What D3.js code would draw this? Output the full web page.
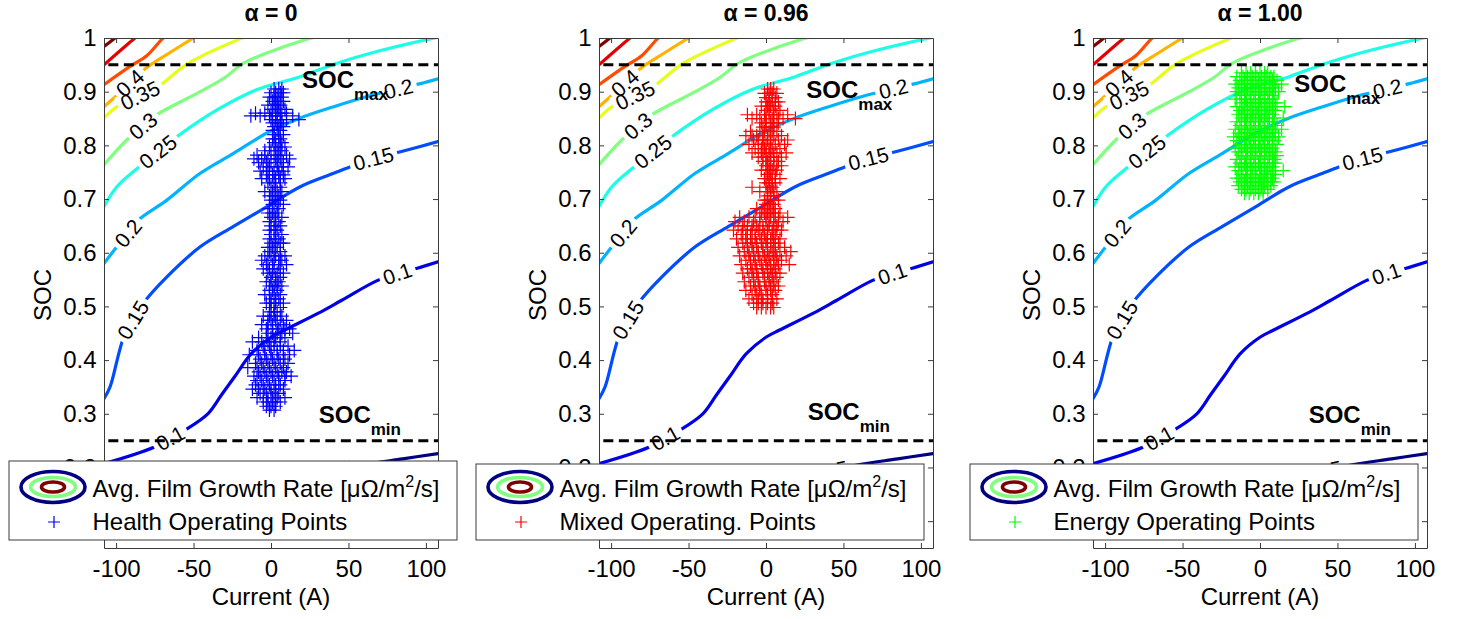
<!DOCTYPE html>
<html><head><meta charset="utf-8">
<script src="https://cdn.jsdelivr.net/npm/d3@7"></script>
<style>
body{margin:0;background:#fff}
svg{display:block}
text{font-family:Arial,"Liberation Sans",Helvetica,sans-serif}
</style>
</head><body>
<svg id="chart" width="1462" height="619"></svg>
<script>
// ---------------- DATA ----------------
const titles = ["\u03b1 = 0", "\u03b1 = 0.96", "\u03b1 = 1.00"];
const seriesNames = ["Health Operating Points", "Mixed Operating. Points", "Energy Operating Points"];
const seriesColors = ["#0000ff", "#ff0000", "#00ff00"];
const legendContourName = "Avg. Film Growth Rate [\u03bc\u03a9/m";
const xTicks = [-100, -50, 0, 50, 100];
const yTicks = [0.1, 0.2, 0.3, 0.4, 0.5, 0.6, 0.7, 0.8, 0.9, 1];
const yTickLabels = ["", "0.2", "0.3", "0.4", "0.5", "0.6", "0.7", "0.8", "0.9", "1"];
const xDomain = [-107.8, 107.8];
const yDomain = [0.05, 1];
const socMax = 0.95, socMin = 0.25;

const contourLevels = [0.05, 0.1, 0.15, 0.2, 0.25, 0.3, 0.35, 0.4, 0.45, 0.5, 0.55];
// contour lines: [current (A), SOC]
const c005 = [[-107.8,0.09],[-60,0.12],[0,0.16],[30,0.185],[58,0.204],[85,0.216],[107.8,0.226]];
const c010 = [[-107.8,0.207],[-75.2,0.238],[-55.9,0.269],[-40.8,0.300],[-32,0.335],[-23.5,0.369],[-12.7,0.412],[0.2,0.443],[8.8,0.456],[30.3,0.487],[45.4,0.511],[68.5,0.548],[81.6,0.561],[94.4,0.571],[107.8,0.583]];
const c015 = [[-107.8,0.328],[-103.9,0.350],[-94.2,0.450],[-82.4,0.506],[-67.2,0.555],[-45.7,0.611],[-24.2,0.649],[-2.6,0.686],[18.9,0.723],[40.5,0.748],[51.3,0.760],[66,0.775],[83.6,0.788],[107.8,0.807]];
const c020 = [[-107.8,0.580],[-99.5,0.611],[-92,0.637],[-85.6,0.661],[-67.2,0.698],[-45.7,0.748],[-24.2,0.785],[-2.6,0.823],[18.9,0.851],[40.5,0.872],[62.1,0.891],[82,0.905],[96.5,0.915],[107.8,0.924]];
const c025 = [[-107.8,0.686],[-99.5,0.723],[-83.4,0.764],[-72.9,0.788],[-60.8,0.816],[-34.9,0.866],[-9.0,0.904],[18.9,0.928],[42.7,0.953],[72.6,0.978],[110,1.003]];
const c030 = [[-107.8,0.764],[-93.1,0.810],[-82.5,0.836],[-73.7,0.857],[-45.7,0.900],[-30,0.926],[-17.7,0.953],[0,0.975],[18.9,0.994],[30,1.003]];
const c035 = [[-107.8,0.851],[-99.5,0.872],[-84.5,0.893],[-72.7,0.910],[-53.3,0.953],[-18.7,1.0],[-15,1.004]];
const c040 = [[-107.8,0.872],[-100,0.892],[-91,0.916],[-80.2,0.945],[-65.1,0.973],[-50,1.0],[-47,1.005]];
const c045 = [[-107.8,0.913],[-91,0.947],[-80.2,0.967],[-69.6,1.0],[-67,1.005]];
const c050 = [[-107.8,0.950],[-87.8,1.0],[-85,1.006]];
const c055 = [[-107.8,0.984],[-100.7,1.0],[-98,1.006]];
const contourLines = [c005, c010, c015, c020, c025, c030, c035, c040, c045, c050, c055];
// inline label positions (current, A) per level index
const contourLabelsAt = [[40], [-65, 81.6], [-89, 66.1], [-92.2, 82.3], [-72.9], [-82.5], [-84.5], [-91], [], [], []];

// annotation anchors [current, SOC] per panel
const socMaxText = [[20.0,0.907],[26.0,0.888],[22.1,0.899]];
const socMinText = [[30.8,0.282],[26.9,0.288],[31.4,0.283]];

// operating points: rows of [SOC, [currents...]]
const healthRows = [
[0.905,[2,5,7]],[0.898,[0,3,6,8]],[0.890,[-1,2,4,7]],[0.882,[1,3,5,8]],[0.875,[-2,2,4,6]],
[0.867,[0,3,5,9]],[0.860,[-10,-4,1,4,7,10]],[0.855,[-13,-7,-1,3,6,14]],[0.848,[0,3,6,10,18]],
[0.842,[1,4,7]],[0.835,[2,5,8]],[0.828,[1,4,6]],[0.820,[2,5,8]],[0.812,[1,3,6]],[0.805,[2,5,7]],
[0.797,[-1,3,6,9]],[0.790,[-4,0,4,7]],[0.782,[-9,-4,2,5,10]],[0.775,[-11,-6,-2,3,6,12]],
[0.768,[-8,-3,0,4,8]],[0.760,[-5,-1,4,7,11]],[0.752,[-7,-2,2,5,8]],[0.745,[-3,1,5,8]],
[0.738,[-6,-1,3,6,9]],[0.730,[-2,2,6]],[0.722,[0,3,6]],[0.714,[-4,1,4,7]],[0.706,[-1,2,5]],
[0.698,[0,3,6]],[0.690,[1,4,8]],[0.682,[-1,2,5]],[0.674,[-2,1,4]],[0.666,[0,3,7]],[0.658,[-1,2,5]],
[0.650,[0,3,6]],[0.642,[-1,2,4]],[0.634,[0,3,7]],[0.626,[-1,2,5]],[0.618,[0,3,6,8]],[0.610,[-2,1,4]],
[0.602,[-1,2,6]],[0.594,[-4,0,3,6,9]],[0.586,[-6,-2,2,5,7]],[0.578,[-3,1,5,10]],[0.570,[-5,-1,2,6]],
[0.562,[-2,1,4,8]],[0.554,[0,3,6]],[0.546,[-3,0,3,5]],[0.538,[-1,2,4,7]],[0.530,[-1,1,4]],
[0.522,[-4,-1,2,6]],[0.514,[0,3,5]],[0.506,[-3,0,3,8]],[0.498,[-1,2,6]],[0.490,[0,2,4]],
[0.482,[-5,-1,2,7]],[0.474,[-2,0,3,6,10]],[0.466,[-6,-2,1,4,8]],[0.458,[-3,1,5,9,12]],
[0.450,[-2,1,4,7,14]],[0.442,[-8,-3,0,3,6,9]],[0.434,[-12,-6,-2,2,6]],[0.426,[-5,-1,2,6,11]],
[0.418,[-9,-4,0,4,8,15]],[0.410,[-14,-8,-4,0,4,8,12]],[0.402,[-7,-3,1,5,9]],[0.394,[-10,-6,-2,2,6,11]],
[0.386,[-15,-9,-5,-1,3,8]],[0.378,[-8,-4,0,4,7,10]],[0.370,[-11,-7,-3,1,5,9,13]],[0.362,[-9,-6,-2,2,5,9]],
[0.354,[-10,-5,-1,3,6]],[0.346,[-12,-8,-4,0,3,8]],[0.338,[-7,-3,0,2,5]],[0.330,[-9,-5,-2,1,4,9]],
[0.322,[-5,-2,1,3,6]],[0.314,[-3,0,3]],[0.307,[-1,2]]
];
const mixedRows = [
[0.905,[1,3,5]],[0.897,[-1,2,4,7]],[0.889,[0,2,4,6]],[0.881,[0,2,4,6,8]],[0.873,[-3,1,3,6]],
[0.865,[0,2,5,9]],[0.857,[-12,-6,-1,2,5,7,14]],[0.850,[-9,-4,0,4,8,11,19]],[0.842,[-3,0,3,5,8]],
[0.834,[-2,0,3,5]],[0.826,[-10,-4,-1,2,4,7]],[0.818,[-13,-9,-6,-2,1,5,10]],[0.810,[-8,-5,-2,1,3,8,14]],
[0.802,[-11,-5,-2,0,3,6,12]],[0.794,[-7,-3,-1,2,4,9]],[0.786,[-9,-3,0,2,5,7,13]],[0.778,[-5,-2,0,3,5,10]],
[0.770,[-2,1,3,5,8]],[0.762,[0,2,5,7,10]],[0.754,[-3,0,2,4,7]],[0.746,[1,3,6]],[0.738,[-1,2,4,6,9]],
[0.730,[0,2,4,6]],[0.722,[-9,0,2,4]],[0.714,[-4,1,3,5,7]],[0.706,[1,3,5]],[0.698,[-1,1,3,5,8]],
[0.690,[0,2,5]],[0.682,[-6,-2,2,4,6]],[0.674,[-3,-1,1,3,5,9]],[0.666,[-17,-11,-7,-4,0,3,6,8,14]],
[0.658,[-20,-14,-8,-4,0,2,5,8,11]],[0.650,[-18,-15,-12,-9,-6,-2,2,5,7]],[0.642,[-21,-15,-12,-9,-5,-2,1,4,7,10]],
[0.634,[-16,-13,-10,-7,-4,-1,1,4,6]],[0.626,[-19,-13,-10,-7,-3,0,3,5,9]],[0.618,[-15,-12,-9,-6,-3,0,3,5,8]],
[0.610,[-18,-12,-9,-6,-2,1,3,6,12]],[0.602,[-14,-11,-8,-5,-2,1,4,6,9,16]],[0.594,[-17,-11,-8,-5,-1,2,5,7,13]],
[0.586,[-13,-10,-7,-4,0,2,5,7,10]],[0.578,[-16,-10,-7,-3,0,3,5,8,15]],[0.570,[-12,-9,-6,-2,1,3,6]],
[0.562,[-15,-9,-6,-2,1,4,6,9]],[0.554,[-11,-8,-5,-1,2,4,7]],[0.546,[-14,-8,-5,-1,2,5]],
[0.538,[-10,-7,-4,0,3,5,8]],[0.530,[-13,-7,-4,0,3,6]],[0.522,[-9,-6,-3,1,4]],[0.514,[-11,-5,-2,1,4,7]],
[0.506,[-8,-5,-2,1,4]],[0.498,[-6,-3,0,3,5]]
];
const energyRows = [
[0.935,[-12,-9,-6,-3,0,3,5]],[0.928,[-15,-11,-8,-5,-2,1,4,7,9]],[0.921,[-13,-10,-7,-4,-1,2,6,8,11]],
[0.914,[-16,-12,-9,-6,-3,0,3,6,9,14]],[0.907,[-14,-11,-8,-5,-2,1,4,7,10]],[0.900,[-15,-12,-9,-6,-3,0,3,6,9,12]],
[0.893,[-13,-10,-7,-4,-1,2,5,8]],[0.886,[-16,-12,-9,-6,-3,0,3,6,8]],[0.879,[-12,-9,-6,-3,0,3,6,9,11]],
[0.872,[-15,-11,-8,-5,-2,1,4,7,10,16]],[0.865,[-13,-10,-7,-4,-1,2,5,8,10]],[0.858,[-14,-11,-8,-5,-2,1,4,6,8]],
[0.851,[-12,-9,-6,-3,0,3,6,9,15]],[0.844,[-15,-12,-9,-6,-3,0,3,6,9]],[0.837,[-13,-10,-7,-4,-1,2,5,8,11]],
[0.830,[-16,-12,-9,-6,-3,0,3,6,9,14]],[0.823,[-14,-11,-8,-5,-2,1,4,7,10]],[0.816,[-17,-13,-10,-7,-4,-1,2,5,8,12]],
[0.809,[-15,-12,-9,-6,-3,0,3,6,9]],[0.802,[-13,-10,-7,-4,-1,2,5,8,11]],[0.795,[-16,-12,-9,-6,-3,0,3,6,8]],
[0.788,[-14,-11,-8,-5,-2,1,4,7,10]],[0.781,[-12,-9,-6,-3,0,3,6,9,11]],[0.774,[-15,-12,-9,-6,-3,0,3,6,9]],
[0.767,[-13,-10,-7,-4,-1,2,5,8,10]],[0.760,[-16,-12,-9,-6,-3,0,3,6,8]],[0.753,[-14,-11,-8,-5,-2,1,4,7,9,15]],
[0.746,[-12,-9,-6,-3,0,3,5,8,10]],[0.739,[-15,-12,-9,-6,-3,0,2,5,8]],[0.732,[-13,-10,-7,-4,-1,2,4,7,9]],
[0.725,[-14,-11,-8,-5,-2,1,3,5,7]],[0.718,[-12,-9,-6,-3,0,2,5]],[0.711,[-10,-7,-4,-1,2]]
];
const seriesRows = [healthRows, mixedRows, energyRows];

// ---------------- LAYOUT ----------------
const panelLeft = [104, 599, 1093];
const TOP = 38, W = 334, H = 510;
const legendX = [9, 476, 970], legendY = [461, 464, 464], legendW = 448;
const FONT = 24;

const svg = d3.select("#chart");
const defs = svg.append("defs");
const x = d3.scaleLinear().domain(xDomain).range([0, W]);
const y = d3.scaleLinear().domain(yDomain).range([H, 0]);

function jet(t) {
  const c = v => Math.max(0, Math.min(1, v));
  return d3.rgb(c(1.5 - Math.abs(4*t - 3))*255, c(1.5 - Math.abs(4*t - 2))*255, c(1.5 - Math.abs(4*t - 1))*255).formatHex();
}
const levelColor = i => jet(i / (contourLevels.length - 1));
const lineGen = d3.line().x(d => x(d[0])).y(d => y(d[1])).curve(d3.curveCatmullRom.alpha(0.5));

function placeOnLine(pts, I) {
  for (let k = 0; k < pts.length - 1; k++) {
    const a = pts[k], b = pts[k+1];
    if (I >= a[0] && I <= b[0]) {
      const t = (I - a[0]) / (b[0] - a[0]);
      const s = a[1] + t*(b[1]-a[1]);
      const ang = Math.atan2(y(b[1]) - y(a[1]), x(b[0]) - x(a[0])) * 180 / Math.PI;
      return {px: x(I), py: y(s), ang};
    }
  }
  return null;
}
const plus = s => `M${-s},0H${s}M0,${-s}V${s}`;

titles.forEach((title, p) => {
  const g = svg.append("g").attr("transform", `translate(${panelLeft[p]},${TOP})`);

  defs.append("clipPath").attr("id", "clip" + p)
    .append("rect").attr("x", 0).attr("y", 0).attr("width", W).attr("height", H);
  const mask = defs.append("mask").attr("id", "mask" + p)
    .attr("maskUnits", "userSpaceOnUse")
    .attr("x", -50).attr("y", -50).attr("width", W + 100).attr("height", H + 100);
  mask.append("rect").attr("x", -50).attr("y", -50).attr("width", W + 100).attr("height", H + 100).attr("fill", "#fff");

  // contour lines
  const cg = g.append("g").attr("clip-path", `url(#clip${p})`).append("g").attr("mask", `url(#mask${p})`);
  contourLines.forEach((pts, i) => {
    cg.append("path").attr("d", lineGen(pts)).attr("fill", "none")
      .attr("stroke", levelColor(i)).attr("stroke-width", 3.2).attr("stroke-linecap", "round");
  });
  // contour labels
  const lg = g.append("g");
  contourLabelsAt.forEach((list, i) => {
    list.forEach(I => {
      const pos = placeOnLine(contourLines[i], I);
      if (!pos) return;
      const t = lg.append("text")
        .attr("transform", `translate(${pos.px},${pos.py}) rotate(${pos.ang})`)
        .attr("text-anchor", "middle").attr("dy", "0.35em")
        .attr("font-size", 21).attr("fill", "#000")
        .text(String(contourLevels[i]));
      const len = t.node().getComputedTextLength();
      mask.append("rect")
        .attr("transform", `translate(${pos.px},${pos.py}) rotate(${pos.ang})`)
        .attr("x", -len/2 - 4).attr("y", -9).attr("width", len + 8).attr("height", 18)
        .attr("fill", "#000");
    });
  });

  // operating points
  const pts = [];
  seriesRows[p].forEach(([s, list]) => list.forEach(I => pts.push([I, s])));
  g.append("g").selectAll("path").data(pts).join("path")
    .attr("transform", d => `translate(${x(d[0])},${y(d[1])})`)
    .attr("d", plus(7)).attr("fill", "none")
    .attr("stroke", seriesColors[p]).attr("stroke-width", 1.2);

  // SOC limits
  [socMax, socMin].forEach(v => {
    g.append("line").attr("x1", x(-105)).attr("x2", x(xDomain[1]))
      .attr("y1", y(v)).attr("y2", y(v))
      .attr("stroke", "#000").attr("stroke-width", 3).attr("stroke-dasharray", "10,5.5");
  });
  [[socMaxText[p], "max"], [socMinText[p], "min"]].forEach(([pos, sub]) => {
    const t = g.append("text").attr("x", x(pos[0])).attr("y", y(pos[1]))
      .attr("font-weight", "bold").attr("font-size", FONT);
    t.append("tspan").text("SOC");
    t.append("tspan").attr("font-size", 17).attr("dy", 12).text(sub);
  });

  // axes
  const axes = [
    [d3.axisBottom(x).tickValues(xTicks).tickSizeInner(-5).tickSizeOuter(0).tickPadding(12).tickFormat(d => String(d)), `translate(0,${H})`],
    [d3.axisTop(x).tickValues(xTicks).tickSizeInner(-5).tickSizeOuter(0).tickFormat(""), "translate(0,0)"],
    [d3.axisLeft(y).tickValues(yTicks).tickSizeInner(-5).tickSizeOuter(0).tickPadding(7.5).tickFormat((d, i) => yTickLabels[i]), "translate(0,0)"],
    [d3.axisRight(y).tickValues(yTicks).tickSizeInner(-5).tickSizeOuter(0).tickFormat(""), `translate(${W},0)`]
  ];
  axes.forEach(([ax, tr]) => {
    const a = g.append("g").attr("transform", tr).call(ax);
    a.attr("font-size", FONT).attr("font-family", 'Arial,"Liberation Sans",sans-serif');
    a.selectAll("path.domain").attr("stroke", "#3a3a3a");
    a.selectAll(".tick line").attr("stroke", "#3a3a3a");
    a.selectAll(".tick text").attr("fill", "#000");
  });

  // titles & axis labels
  g.append("text").attr("x", W/2).attr("y", -17).attr("text-anchor", "middle")
    .attr("font-weight", "bold").attr("font-size", 23).text(title);
  g.append("text").attr("x", W/2).attr("y", H + 57).attr("text-anchor", "middle")
    .attr("font-size", FONT).text("Current (A)");
  g.append("text").attr("transform", `translate(-53,${H/2 + 2}) rotate(-90)`)
    .attr("text-anchor", "middle").attr("font-size", FONT).text("SOC");

  // legend
  const lx = legendX[p], ly = legendY[p], lh = 540 - ly;
  const L = svg.append("g").attr("transform", `translate(${lx},${ly})`);
  L.append("rect").attr("width", legendW).attr("height", lh)
    .attr("fill", "#fff").attr("stroke", "#3a3a3a").attr("stroke-width", 1);
  const icon = L.append("g").attr("transform", `translate(44,${lh - 53})`);
  [[32, 15.5, levelColor(0)], [22.5, 9.5, levelColor(5)], [11.5, 5, levelColor(10)]].forEach(([rx, ry, c]) => {
    icon.append("ellipse").attr("rx", rx).attr("ry", ry).attr("fill", "none")
      .attr("stroke", c).attr("stroke-width", 3.6);
  });
  const t1 = L.append("text").attr("x", 83.5).attr("y", lh - 43).attr("font-size", FONT);
  t1.append("tspan").text(legendContourName);
  t1.append("tspan").attr("font-size", 16).attr("dy", -10).text("2");
  t1.append("tspan").attr("dy", 10).text("/s]");
  L.append("path").attr("transform", `translate(45,${lh - 18})`).attr("d", plus(6))
    .attr("fill", "none").attr("stroke", seriesColors[p]).attr("stroke-width", 1.2);
  L.append("text").attr("x", 83.5).attr("y", lh - 10).attr("font-size", FONT).text(seriesNames[p]);
});
</script>
</body></html>
